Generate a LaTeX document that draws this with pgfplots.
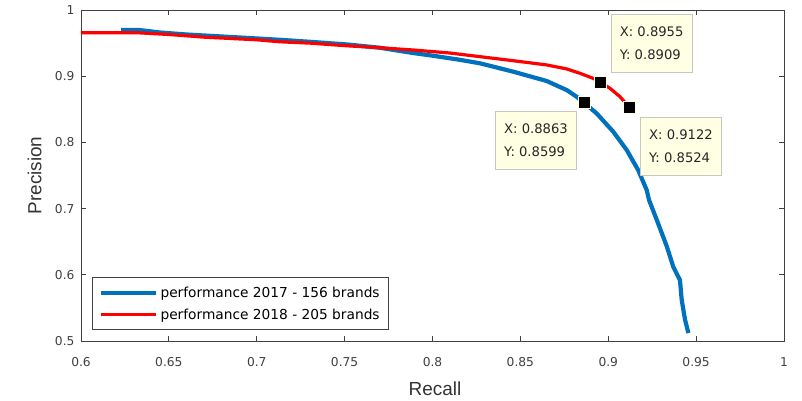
\documentclass[border=0pt]{standalone}
\usepackage{pgfplots}
\pgfplotsset{compat=1.18}
\usepackage{fontspec}
\setmainfont{Liberation Sans}
\newfontfamily\tickfont{DejaVu Sans}
\usetikzlibrary{calc}
\definecolor{mblue}{rgb}{0,0.447,0.741}
\definecolor{axgray}{RGB}{64,64,64}
\definecolor{tipbg}{RGB}{255,255,228}
\definecolor{tipedge}{RGB}{200,200,190}
\begin{document}
\begin{tikzpicture}
\begin{axis}[
  scale only axis,
  width=703bp, height=331bp,
  xmin=0.6, xmax=1, ymin=0.5, ymax=1,
  xtick={0.6,0.65,0.7,0.75,0.8,0.85,0.9,0.95,1},
  xticklabels={0.6,0.65,0.7,0.75,0.8,0.85,0.9,0.95,1},
  ytick={0.5,0.6,0.7,0.8,0.9,1},
  yticklabels={0.5,0.6,0.7,0.8,0.9,1},
  tick align=inside,
  major tick length=5bp,
  axis line style={axgray, line width=0.9pt},
  every tick/.style={axgray, line width=0.9pt},
  tick label style={font=\tickfont\fontsize{12.3}{14}\selectfont, text=axgray},
  xticklabel style={anchor=center, yshift=-21bp},
  yticklabel style={xshift=-3bp},
  xlabel={Recall},
  ylabel={Precision},
  label style={font=\fontsize{19}{22}\selectfont, text=axgray!80!black},
  xlabel style={at={(axis description cs:0.5035,-0.143)}, anchor=center},
  ylabel style={at={(axis description cs:-0.066,0.5)}, anchor=center},
  legend style={at={(0.0156,0.033)}, anchor=south west, draw=axgray, line width=0.8pt,
    font=\tickfont\fontsize{13.8}{16}\selectfont, inner xsep=7bp, inner ysep=7bp,
    row sep=6bp, cells={anchor=west}},
  legend image code/.code={\draw[#1] (0bp,0bp) -- (55bp,0bp);},
  clip=false,
]
\addplot[mblue, line width=4.2bp, line join=round] coordinates {
(0.6228,0.970) (0.6324,0.970) (0.645,0.966) (0.66,0.963) (0.68,0.960)
(0.70,0.957) (0.713,0.955) (0.73,0.952) (0.751,0.948) (0.77,0.943)
(0.789,0.935) (0.80,0.931) (0.815,0.925) (0.827,0.9195) (0.846,0.9068)
(0.865,0.8927) (0.8764,0.879) (0.882,0.869) (0.8863,0.8599) (0.8934,0.8438)
(0.9029,0.816) (0.9105,0.7885) (0.917,0.7583) (0.9219,0.728) (0.9232,0.713)
(0.9276,0.683) (0.9333,0.643) (0.937,0.612) (0.9408,0.592) (0.9418,0.562)
(0.9437,0.532) (0.9456,0.512)
};
\addlegendentry{performance 2017 - 156 brands}
\addplot[red, line width=3.2bp, line join=round] coordinates {
(0.6,0.9655) (0.633,0.9655) (0.65,0.963) (0.67,0.959) (0.70,0.955)
(0.713,0.952) (0.73,0.950) (0.751,0.946) (0.77,0.943) (0.789,0.9396)
(0.81,0.935) (0.827,0.9295) (0.846,0.9234) (0.865,0.917) (0.8764,0.911)
(0.884,0.9043) (0.8915,0.8967) (0.8955,0.8909) (0.901,0.8817) (0.9067,0.869)
(0.9122,0.8524)
};
\addlegendentry{performance 2018 - 205 brands}
\addplot[only marks, mark=square*, mark size=6bp, mark options={fill=black, draw=tipbg, line width=0.6pt}, forget plot] coordinates {
(0.8863,0.8599) (0.8955,0.8909) (0.9122,0.8524)
};
\tikzset{tip/.style={draw=tipedge, fill=tipbg, line width=0.6pt, minimum width=81bp, minimum height=58bp,
  align=left, font=\tickfont\fontsize{13.2}{23}\selectfont, text=black!85, inner xsep=5bp}}
\node[tip] at (axis cs:0.9247,0.950) {X:~0.8955\\Y:~0.8909};
\node[tip] at (axis cs:0.8589,0.8029) {X:~0.8863\\Y:~0.8599};
\node[tip] at (axis cs:0.9414,0.7946) {X:~0.9122\\Y:~0.8524};
\coordinate (ll) at (rel axis cs:0,0);
\end{axis}
\pgfresetboundingbox
\path[use as bounding box] ($(ll)+(-81bp,-60bp)$) rectangle ($(ll)+(721bp,341bp)$);
\end{tikzpicture}
\end{document}
